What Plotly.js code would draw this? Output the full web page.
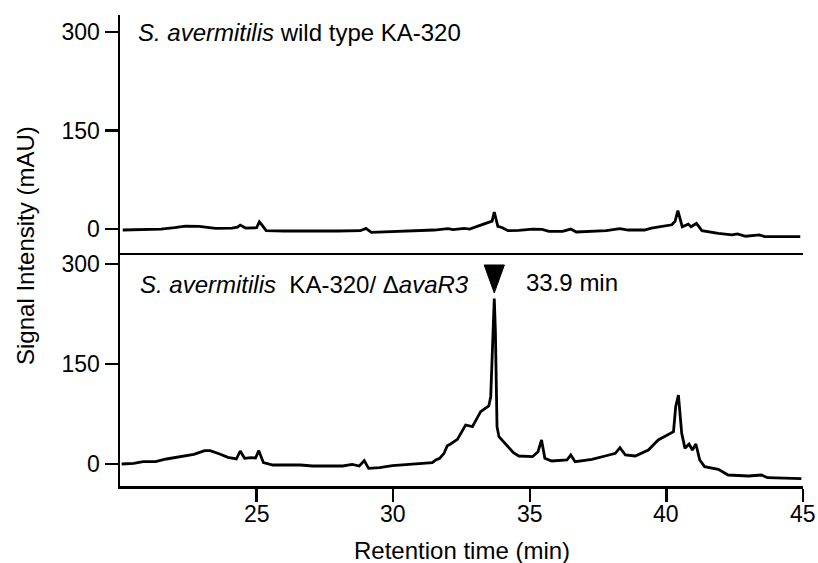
<!DOCTYPE html>
<html>
<head>
<meta charset="utf-8">
<script src="https://cdn.plot.ly/plotly-3.0.1.min.js"></script>
<style>html,body{margin:0;padding:0;background:#fff;}#chart{width:818px;height:563px;}</style>
</head>
<body>
<div id="chart"></div>
<script>
// Wild type KA-320 (top panel)
const wtTime = [20.1, 21.0, 21.5, 22.0, 22.4, 22.9, 23.5, 24.1, 24.3, 24.4, 24.6, 25.0, 25.1, 25.2, 25.35, 26.0, 27.0, 28.0, 28.8, 29.0, 29.2, 30.0, 30.9, 31.5, 32.0, 32.2, 32.6, 32.8, 33.1, 33.5, 33.62, 33.7, 33.83, 34.0, 34.2, 34.6, 35.1, 35.45, 35.7, 36.2, 36.5, 36.7, 37.2, 37.8, 38.3, 38.6, 39.2, 39.45, 40.2, 40.32, 40.42, 40.58, 40.8, 40.9, 41.1, 41.3, 41.9, 42.4, 42.6, 42.9, 43.4, 43.6, 44.3, 44.9];
const wtSignal = [-1.5, -1, 0, 2, 4.5, 4, 1, 1.5, 3, 6, 1.5, 2, 11, 6, -2.5, -3, -3.5, -3, -2.5, 1, -5, -4, -2.5, -1.5, 0.5, -1, 1, 0, 4.5, 9.5, 12, 26, 4, 2, -2.5, -2, 0, -0.5, -3.5, -3.5, 0, -4.5, -3.5, -2.5, 0.5, -1.5, -1.5, 1.5, 6.5, 12, 28, 3.5, 7.5, 3.5, 8.5, -2.5, -6.5, -9, -7.5, -11, -9, -11.5, -11.5, -11.5];

// KA-320 / ΔavaR3 (bottom panel)
const mutTime = [20.06, 20.5, 20.85, 21.3, 21.7, 22.2, 22.7, 23.1, 23.3, 23.65, 23.95, 24.26, 24.4, 24.56, 24.8, 24.96, 25.08, 25.25, 25.6, 26.6, 27.05, 28.15, 28.5, 28.76, 28.94, 29.1, 29.5, 29.97, 30.95, 31.43, 31.56, 31.7, 31.86, 31.98, 32.1, 32.35, 32.65, 32.9, 33.2, 33.5, 33.57, 33.63, 33.7, 33.74, 33.8, 33.87, 34.1, 34.4, 34.6, 35.1, 35.3, 35.43, 35.55, 35.8, 36.36, 36.5, 36.66, 37.27, 37.76, 38.13, 38.3, 38.5, 38.86, 39.34, 39.7, 40.07, 40.26, 40.34, 40.44, 40.56, 40.68, 40.83, 40.95, 41.08, 41.22, 41.4, 41.9, 42.26, 43.0, 43.48, 43.7, 44.94];
const mutSignal = [0, 1, 3.5, 3.5, 7.5, 11, 14.5, 20, 20, 15, 10, 7.5, 19.5, 8.5, 9.5, 9, 20, 2, -1.5, -1.5, -3, -3, -0.5, -3, 5, -6.5, -5.5, -2.5, 0, 2, 6, 8.5, 16, 27.5, 30, 37, 58.5, 56, 78.5, 87, 101, 180, 248, 200, 56, 41, 31, 17, 12, 11, 18.5, 36, 8.5, 4.5, 6, 13.5, 3.5, 7, 12, 16, 24.5, 13.5, 12, 21, 36, 45, 48.5, 86, 103.5, 46, 23.5, 30, 21, 30, 6, -4, -8, -16.5, -18, -16.5, -20.5, -22];

const yTicks = [0, 150, 300];
const xTicks = [25, 30, 35, 40, 45];
const xTickLabels = ['25', '30', '35', '40', '45'];
const peakLabel = '33.9 min';

const FONT = 'Liberation Sans, Arial, sans-serif';
const traceLine = {color: '#000', width: 2.8};

const traces = [
  {x: wtTime, y: wtSignal, xaxis: 'x', yaxis: 'y', mode: 'lines', line: traceLine, hoverinfo: 'skip'},
  {x: mutTime, y: mutSignal, xaxis: 'x2', yaxis: 'y2', mode: 'lines', line: traceLine, hoverinfo: 'skip'}
];

// locate the main peak from the data
let pk = 0;
mutSignal.forEach((v, i) => { if (v > mutSignal[pk]) pk = i; });
const peakT = mutTime[pk];

const split = 0.4947;
const axisCommon = {showgrid: false, zeroline: false, linecolor: '#000', linewidth: 2.5,
  tickcolor: '#000', tickwidth: 2.5, tickfont: {family: FONT, size: 23, color: '#000'}};
const txt = (s) => ({family: FONT, size: s, color: '#000'});

const annotations = [
  {text: 'Signal Intensity (mAU)', xref: 'paper', yref: 'paper', x: -0.1376, y: 0.5096,
   xanchor: 'center', yanchor: 'middle', textangle: -90, showarrow: false, font: txt(24)},
  {text: 'Retention time (min)', xref: 'paper', yref: 'paper', x: 0.5, y: -0.136,
   xanchor: 'center', yanchor: 'middle', showarrow: false, font: txt(24)},
  {text: '<i>S. avermitilis</i> wild type KA-320', xref: 'paper', yref: 'paper', x: 0.024, y: 0.962,
   xanchor: 'left', yanchor: 'middle', showarrow: false, font: txt(24)},
  {text: '<i>S. avermitilis</i>  KA-320/ Δ<i>avaR3</i>', xref: 'paper', yref: 'paper', x: 0.027, y: 0.427,
   xanchor: 'left', yanchor: 'middle', showarrow: false, font: txt(24)},
  {text: peakLabel, xref: 'paper', yref: 'paper', x: 0.592, y: 0.431,
   xanchor: 'left', yanchor: 'middle', showarrow: false, font: txt(24)}
];
// bottom x tick labels placed through the x2 scale
xTicks.forEach((t, i) => annotations.push({text: xTickLabels[i], xref: 'x2', yref: 'paper', x: t, y: -0.059,
  xanchor: 'center', yanchor: 'middle', showarrow: false, font: txt(23)}));

const layout = {
  width: 818, height: 563,
  margin: {l: 120, r: 15, t: 15, b: 77},
  paper_bgcolor: '#fff', plot_bgcolor: '#fff',
  showlegend: false,
  font: {family: FONT, color: '#000'},
  xaxis: Object.assign({}, axisCommon, {domain: [0, 1], range: [20, 45], anchor: 'y', showline: true,
    ticks: '', showticklabels: false}),
  yaxis: Object.assign({}, axisCommon, {domain: [split, 1], range: [-36.5, 326], anchor: 'x', showline: true,
    ticks: 'outside', ticklen: 13, tickvals: yTicks, ticktext: yTicks.map(String)}),
  xaxis2: Object.assign({}, axisCommon, {domain: [0, 1], range: [20, 45], anchor: 'y2', showline: true,
    ticks: 'outside', ticklen: 13, tickvals: xTicks, showticklabels: false}),
  yaxis2: Object.assign({}, axisCommon, {domain: [0, split], range: [-33, 316.5], anchor: 'x2', showline: true,
    ticks: 'outside', ticklen: 13, tickvals: yTicks, ticktext: yTicks.map(String)}),
  annotations: annotations,
  shapes: [
    {type: 'path', xref: 'x2', yref: 'y2',
     path: 'M ' + (peakT - 0.37) + ',298.5 L ' + (peakT + 0.37) + ',298.5 L ' + peakT + ',256.5 Z',
     fillcolor: '#000', line: {color: '#000', width: 1}}
  ]
};

Plotly.newPlot('chart', traces, layout, {staticPlot: true, displayModeBar: false});
</script>
</body>
</html>
